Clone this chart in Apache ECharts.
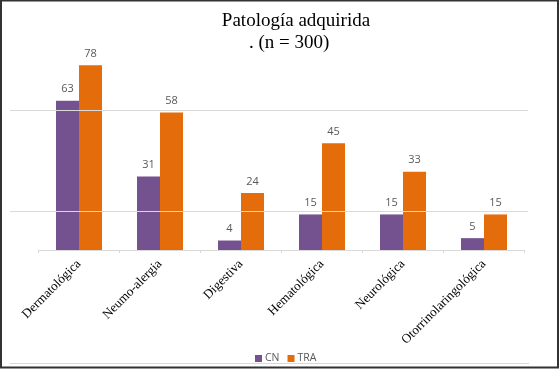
<!DOCTYPE html>
<html>
<head>
<meta charset="utf-8">
<script src="https://cdn.jsdelivr.net/npm/echarts@6/dist/echarts.min.js"></script>
<style>
html,body{margin:0;padding:0;background:#fff;}
#chart{width:560px;height:376px;}
</style>
</head>
<body>
<div id="chart"></div>
<script>
const categories = ['Dermatológica', 'Neumo-alergia', 'Digestiva', 'Hematológica', 'Neurológica', 'Otorrinolaringológica'];
const seriesNames = ['CN', 'TRA'];
const cnValues = [63, 31, 4, 15, 15, 5];
const traValues = [78, 58, 24, 45, 33, 15];
const gridValues = [16.5, 59];
const titleText = 'Patología adquirida';
const subtitleText = '. (n = 300)';

const chart = echarts.init(document.getElementById('chart'), null, {renderer: 'canvas'});
const labelStyle = {show: true, position: 'top', distance: 6, color: '#595959', fontFamily: 'Open Sans', fontSize: 11};
chart.setOption({
  backgroundColor: '#ffffff',
  animation: false,
  title: [
    {text: titleText, left: 291, top: 7, textAlign: 'center',
     textStyle: {fontFamily: 'Liberation Serif', fontSize: 19, fontWeight: 'normal', color: '#000'}},
    {text: subtitleText, left: 244, top: 29,
     textStyle: {fontFamily: 'Liberation Serif', fontSize: 19, fontWeight: 'normal', color: '#000'}}
  ],
  legend: {
    data: seriesNames, left: 250, top: 348, itemWidth: 7, itemHeight: 7, itemGap: 8,
    icon: 'rect',
    textStyle: {fontFamily: 'Open Sans', fontSize: 10.5, color: '#595959', padding: [0, 0, 0, -2]}
  },
  grid: [
    {left: 38.5, right: 35.5, top: 13, bottom: 126},
    {left: 10, right: 32, top: 13, bottom: 126}
  ],
  xAxis: [
    {type: 'category', data: categories, gridIndex: 0,
     axisLine: {lineStyle: {color: '#d9d9d9'}},
     axisTick: {show: true, length: 3, lineStyle: {color: '#d9d9d9'}},
     axisLabel: {rotate: 45, margin: 12, fontFamily: 'Liberation Serif', fontSize: 13, color: '#000', interval: 0}},
    {type: 'value', gridIndex: 1, min: 0, max: 1, show: false}
  ],
  yAxis: [
    {type: 'value', gridIndex: 0, min: 0, max: 100, show: false, splitLine: {show: false}},
    {type: 'value', gridIndex: 1, min: 0, max: 100, show: false, splitLine: {show: false}}
  ],
  series: [
    {name: 'gridlines', type: 'line', xAxisIndex: 1, yAxisIndex: 1, data: [], silent: true,
     markLine: {silent: true, symbol: 'none', label: {show: false},
       lineStyle: {color: '#d9d9d9', width: 1, type: 'solid'},
       data: gridValues.map(v => ({yAxis: v}))}},
    {name: seriesNames[0], type: 'bar', data: cnValues, barWidth: 23, barGap: '0%',
     itemStyle: {color: '#74528f'}, label: labelStyle},
    {name: seriesNames[1], type: 'bar', data: traValues, barWidth: 23, barGap: '0%',
     itemStyle: {color: '#e46c0a'}, label: labelStyle}
  ],
  graphic: [
    {type: 'line', shape: {x1: 10, y1: 363.5, x2: 529, y2: 363.5}, style: {stroke: '#d9d9d9', lineWidth: 1}, silent: true},
    {type: 'rect', shape: {x: 1, y: 0.5, width: 557, height: 367}, style: {fill: 'none', stroke: '#333', lineWidth: 2}, silent: true}
  ]
});
</script>
</body>
</html>
